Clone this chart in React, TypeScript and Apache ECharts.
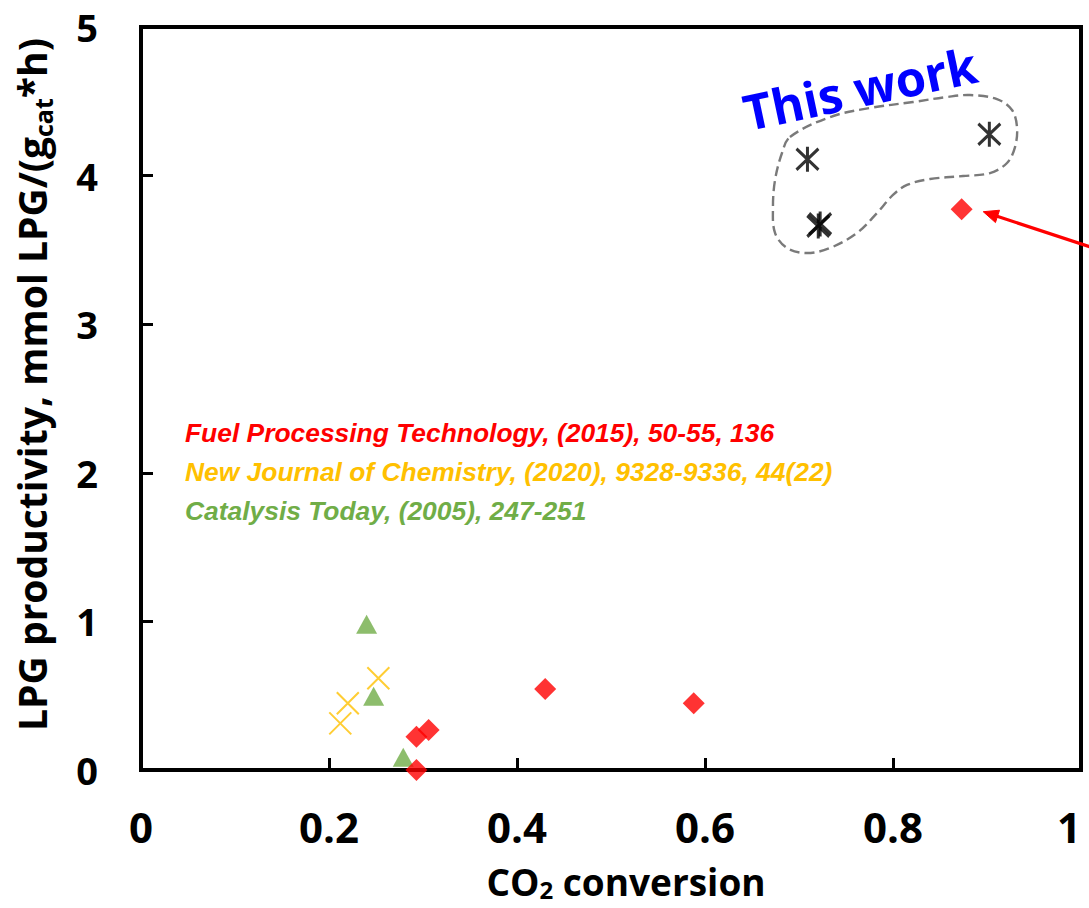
import React, { useEffect, useRef } from "react";
import * as echarts from "echarts";

// ---- data (CO2 conversion, LPG productivity) ----
const fuelProcessing: [number, number][] = [
  [0.293, 0.0],
  [0.293, 0.224],
  [0.306, 0.269],
  [0.43, 0.545],
  [0.588, 0.449],
  [0.873, 3.773],
];
const newJournal: [number, number][] = [
  [0.212, 0.314],
  [0.22, 0.449],
  [0.2525, 0.617],
];
const catalysisToday: [number, number][] = [
  [0.24, 0.981],
  [0.2475, 0.496],
  [0.279, 0.086],
];
const thisWork: [number, number][] = [
  [0.709, 4.11],
  [0.7205, 3.66],
  [0.7225, 3.675],
  [0.9025, 4.278],
];

const referenceLabels = [
  "Fuel Processing Technology, (2015), 50-55, 136",
  "New Journal of Chemistry, (2020), 9328-9336, 44(22)",
  "Catalysis Today, (2005), 247-251",
];
const referenceColors = ["#FF0000", "#FFC000", "#70AD47"];

// dashed outline around "This work" points (data coordinates)
const outlineX = [
  0.6904, 0.733, 0.7755, 0.8213, 0.8574, 0.8819, 0.9106, 0.9266, 0.9319, 0.9298,
  0.9213, 0.9032, 0.8745, 0.8394, 0.8149, 0.8, 0.783, 0.7617, 0.733, 0.7085,
  0.6872, 0.6745, 0.6723, 0.6745, 0.6819,
];
const outlineY = [
  4.26, 4.394, 4.455, 4.495, 4.529, 4.542, 4.515, 4.441, 4.327, 4.192,
  4.085, 4.017, 3.997, 3.977, 3.937, 3.87, 3.748, 3.614, 3.513, 3.479,
  3.513, 3.614, 3.789, 3.97, 4.152,
];
// arrow pointing at the highlighted diamond (data coordinates)
const arrowTail: [number, number] = [1.0085, 3.523];
const arrowTip: [number, number] = [0.896, 3.757];

const ASTERISK = "path://M11,0 L11,25 M0,2 L22,23 M0,23 L22,2";
const CROSS = "path://M0,0 L22,22 M0,22 L22,0";

export default function App() {
  const ref = useRef<HTMLDivElement>(null);

  useEffect(() => {
    if (!ref.current) return;
    const chart = echarts.init(ref.current, null, { renderer: "svg" });

    const option: any = {
      animation: false,
      backgroundColor: "#ffffff",
      grid: {
        left: 141,
        right: 8,
        top: 27,
        bottom: 138,
        containLabel: false,
        outerBoundsMode: "none",
        show: true,
        borderColor: "#000",
        borderWidth: 4,
      },
      xAxis: {
        type: "value",
        min: 0,
        max: 1,
        interval: 0.2,
        name: "{a|CO}{b|2}{a| conversion}",
        nameLocation: "middle",
        nameGap: 91,
        nameTextStyle: {
          padding: [0, 0, 0, 30],
          rich: {
            a: { fontSize: 37, fontWeight: "bold", fontFamily: "Open Sans", color: "#000", lineHeight: 40 },
            b: { fontSize: 24, fontWeight: "bold", fontFamily: "Open Sans", color: "#000", lineHeight: 10, verticalAlign: "bottom" },
          },
        },
        axisLine: { show: true, lineStyle: { color: "#000", width: 4 } },
        axisTick: { show: true, inside: true, length: 12, lineStyle: { color: "#000", width: 3 } },
        axisLabel: {
          margin: 35,
          fontSize: 42,
          fontWeight: "bold",
          fontFamily: "Open Sans",
          color: "#000",
          alignMaxLabel: "right",
        },
        splitLine: { show: false },
      },
      yAxis: {
        type: "value",
        min: 0,
        max: 5,
        interval: 1,
        name: "{a|LPG productivity, mmol LPG/(g}{b|cat}{a|*h)}",
        nameLocation: "middle",
        nameGap: 86,
        nameRotate: 90,
        nameTextStyle: {
          padding: [0, 0, 0, 28],
          rich: {
            a: { fontSize: 39, fontWeight: "bold", fontFamily: "Open Sans", color: "#000", lineHeight: 48 },
            b: { fontSize: 25, fontWeight: "bold", fontFamily: "Open Sans", color: "#000", lineHeight: 24, verticalAlign: "bottom" },
          },
        },
        axisLine: { show: true, lineStyle: { color: "#000", width: 4 } },
        axisTick: { show: true, inside: true, length: 12, lineStyle: { color: "#000", width: 3 } },
        axisLabel: { margin: 43, fontSize: 38, fontWeight: "bold", fontFamily: "Open Sans", color: "#000" },
        splitLine: { show: false },
      },
      series: [
        {
          type: "custom",
          name: "annotation",
          coordinateSystem: "cartesian2d",
          clip: false,
          silent: true,
          z: 1,
          data: [[0.8, 4]],
          renderItem: (_params: any, api: any) => {
            const pts = outlineX.map((x, i) => api.coord([x, outlineY[i]]));
            const tip = api.coord(arrowTip);
            const tail = api.coord(arrowTail);
            const dx = tail[0] - tip[0];
            const dy = tail[1] - tip[1];
            const len = Math.sqrt(dx * dx + dy * dy);
            const ux = dx / len;
            const uy = dy / len;
            const headLen = 15;
            const headHalf = 6.5;
            const bx = tip[0] + ux * headLen;
            const by = tip[1] + uy * headLen;
            const p1 = [bx - uy * headHalf, by + ux * headHalf];
            const p2 = [bx + uy * headHalf, by - ux * headHalf];
            return {
              type: "group",
              children: [
                {
                  type: "polygon",
                  shape: { points: pts, smooth: 0.35 },
                  style: { fill: "none", stroke: "#7a7a7a", lineWidth: 2.4, lineDash: [10, 5] },
                },
                {
                  type: "line",
                  shape: { x1: tail[0] + ux * 20, y1: tail[1] + uy * 20, x2: bx - ux * 2, y2: by - uy * 2 },
                  style: { stroke: "#FF0000", lineWidth: 3.2 },
                },
                {
                  type: "polygon",
                  shape: { points: [tip, p1, p2] },
                  style: { fill: "#FF0000", stroke: "#FF0000", lineWidth: 1 },
                },
              ],
            };
          },
        },
        {
          type: "scatter",
          name: "New Journal of Chemistry",
          data: newJournal,
          clip: false,
          symbol: CROSS,
          symbolSize: 22,
          itemStyle: { color: "none", borderColor: "#FFC000", borderWidth: 2 },
          z: 3,
        },
        {
          type: "scatter",
          name: "Catalysis Today",
          data: catalysisToday,
          clip: false,
          symbol: "triangle",
          symbolSize: [21, 19],
          itemStyle: { color: "#70AD47" },
          z: 4,
        },
        {
          type: "scatter",
          name: "Fuel Processing Technology",
          data: fuelProcessing,
          clip: false,
          symbol: "diamond",
          symbolSize: 22,
          itemStyle: { color: "#FF0000" },
          z: 5,
        },
        {
          type: "scatter",
          name: "This work",
          data: thisWork,
          clip: false,
          symbol: ASTERISK,
          symbolSize: [22, 25],
          itemStyle: { color: "none", borderColor: "#000", borderWidth: 3.2 },
          z: 6,
        },
      ],
      graphic: [
        ...referenceLabels.map((t, i) => ({
          type: "text",
          x: 185,
          y: 433 + i * 39,
          silent: true,
          style: {
            text: t,
            fill: referenceColors[i],
            fontSize: 26.4,
            fontWeight: "bold",
            fontStyle: "italic",
            fontFamily: "Liberation Sans",
            align: "left",
            verticalAlign: "middle",
          },
        })),
        {
          type: "text",
          x: 860,
          y: 88,
          rotation: 0.21,
          silent: true,
          style: {
            text: "This work",
            fill: "#0000FF",
            fontSize: 49,
            fontWeight: "bold",
            fontFamily: "Open Sans",
            align: "center",
            verticalAlign: "middle",
          },
        },
      ],
    };

    chart.setOption(option);
    return () => chart.dispose();
  }, []);

  return (
    <div
      ref={ref}
      style={{ position: "absolute", left: 0, top: 0, width: 1089, height: 908 }}
    />
  );
}
